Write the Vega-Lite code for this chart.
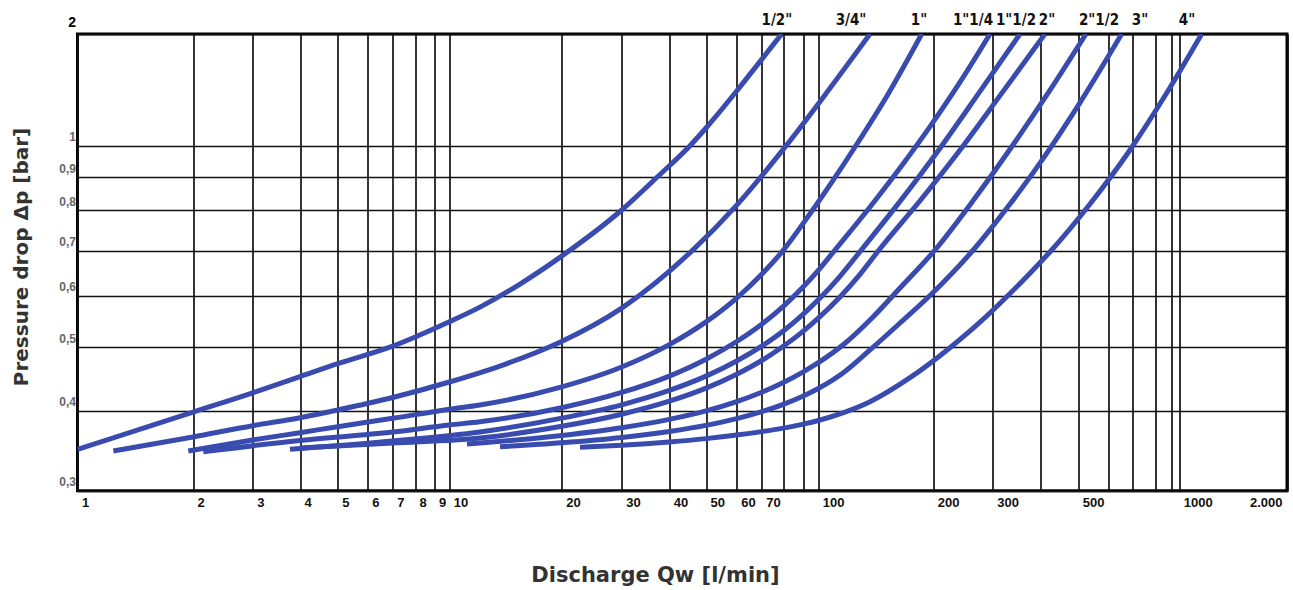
{
  "$schema": "https://vega.github.io/schema/vega-lite/v6.json",
  "width": 1209.5,
  "height": 456.7,
  "autosize": "none",
  "padding": {"left": 77.5, "top": 34, "right": 6, "bottom": 99.3},
  "background": "white",
  "config": {"view": {"stroke": "#000", "strokeWidth": 3}},
  "datasets": {
    "curves": [
      {"pipe": "1/2\"", "q": 1, "dp": 0.348}, {"pipe": "1/2\"", "q": 2, "dp": 0.398}, {"pipe": "1/2\"", "q": 3, "dp": 0.426}, {"pipe": "1/2\"", "q": 4, "dp": 0.451}, {"pipe": "1/2\"", "q": 5, "dp": 0.472}, {"pipe": "1/2\"", "q": 7, "dp": 0.502}, {"pipe": "1/2\"", "q": 10, "dp": 0.547}, {"pipe": "1/2\"", "q": 12.08, "dp": 0.576}, {"pipe": "1/2\"", "q": 15.47, "dp": 0.6242}, {"pipe": "1/2\"", "q": 20, "dp": 0.687}, {"pipe": "1/2\"", "q": 30, "dp": 0.8}, {"pipe": "1/2\"", "q": 37.13, "dp": 0.9}, {"pipe": "1/2\"", "q": 45.37, "dp": 1}, {"pipe": "1/2\"", "q": 50, "dp": 1.116}, {"pipe": "1/2\"", "q": 60, "dp": 1.404}, {"pipe": "1/2\"", "q": 70, "dp": 1.709}, {"pipe": "1/2\"", "q": 79.21, "dp": 2},
      {"pipe": "3/4\"", "q": 1.24, "dp": 0.346}, {"pipe": "3/4\"", "q": 2, "dp": 0.364}, {"pipe": "3/4\"", "q": 3, "dp": 0.379}, {"pipe": "3/4\"", "q": 4, "dp": 0.39}, {"pipe": "3/4\"", "q": 5, "dp": 0.401}, {"pipe": "3/4\"", "q": 7, "dp": 0.419}, {"pipe": "3/4\"", "q": 10, "dp": 0.4425}, {"pipe": "3/4\"", "q": 14.1, "dp": 0.471}, {"pipe": "3/4\"", "q": 19.79, "dp": 0.509}, {"pipe": "3/4\"", "q": 30, "dp": 0.574}, {"pipe": "3/4\"", "q": 45.84, "dp": 0.699}, {"pipe": "3/4\"", "q": 60.11, "dp": 0.815}, {"pipe": "3/4\"", "q": 79.85, "dp": 0.987}, {"pipe": "3/4\"", "q": 104.75, "dp": 1.382}, {"pipe": "3/4\"", "q": 136.56, "dp": 2},
      {"pipe": "1\"", "q": 1.944, "dp": 0.346}, {"pipe": "1\"", "q": 3, "dp": 0.36}, {"pipe": "1\"", "q": 4, "dp": 0.3696}, {"pipe": "1\"", "q": 5, "dp": 0.3776}, {"pipe": "1\"", "q": 7, "dp": 0.3892}, {"pipe": "1\"", "q": 10, "dp": 0.402}, {"pipe": "1\"", "q": 12.08, "dp": 0.4081}, {"pipe": "1\"", "q": 19.79, "dp": 0.4342}, {"pipe": "1\"", "q": 30, "dp": 0.4665}, {"pipe": "1\"", "q": 40, "dp": 0.5048}, {"pipe": "1\"", "q": 50, "dp": 0.5468}, {"pipe": "1\"", "q": 60, "dp": 0.5947}, {"pipe": "1\"", "q": 70, "dp": 0.6456}, {"pipe": "1\"", "q": 79.21, "dp": 0.6964}, {"pipe": "1\"", "q": 94.34, "dp": 0.7901}, {"pipe": "1\"", "q": 109.27, "dp": 0.89}, {"pipe": "1\"", "q": 124.76, "dp": 0.9957}, {"pipe": "1\"", "q": 152.21, "dp": 1.3766}, {"pipe": "1\"", "q": 186.51, "dp": 2},
      {"pipe": "1\"1/4", "q": 2.145, "dp": 0.3452}, {"pipe": "1\"1/4", "q": 4, "dp": 0.3594}, {"pipe": "1\"1/4", "q": 7, "dp": 0.3705}, {"pipe": "1\"1/4", "q": 10, "dp": 0.38}, {"pipe": "1\"1/4", "q": 12.08, "dp": 0.3845}, {"pipe": "1\"1/4", "q": 20, "dp": 0.4042}, {"pipe": "1\"1/4", "q": 30, "dp": 0.4265}, {"pipe": "1\"1/4", "q": 40, "dp": 0.4518}, {"pipe": "1\"1/4", "q": 50, "dp": 0.4795}, {"pipe": "1\"1/4", "q": 60, "dp": 0.5103}, {"pipe": "1\"1/4", "q": 70, "dp": 0.5424}, {"pipe": "1\"1/4", "q": 80, "dp": 0.5776}, {"pipe": "1\"1/4", "q": 90, "dp": 0.6184}, {"pipe": "1\"1/4", "q": 100, "dp": 0.6543}, {"pipe": "1\"1/4", "q": 110.59, "dp": 0.7016}, {"pipe": "1\"1/4", "q": 136.56, "dp": 0.8087}, {"pipe": "1\"1/4", "q": 163.63, "dp": 0.9283}, {"pipe": "1\"1/4", "q": 196.07, "dp": 1.1258}, {"pipe": "1\"1/4", "q": 239.99, "dp": 1.483}, {"pipe": "1\"1/4", "q": 294.52, "dp": 2},
      {"pipe": "1\"1/2", "q": 3.764, "dp": 0.3482}, {"pipe": "1\"1/2", "q": 7, "dp": 0.3587}, {"pipe": "1\"1/2", "q": 12.08, "dp": 0.3705}, {"pipe": "1\"1/2", "q": 20, "dp": 0.3894}, {"pipe": "1\"1/2", "q": 30, "dp": 0.4084}, {"pipe": "1\"1/2", "q": 40, "dp": 0.4296}, {"pipe": "1\"1/2", "q": 50, "dp": 0.4518}, {"pipe": "1\"1/2", "q": 60, "dp": 0.4765}, {"pipe": "1\"1/2", "q": 70, "dp": 0.5021}, {"pipe": "1\"1/2", "q": 80, "dp": 0.5297}, {"pipe": "1\"1/2", "q": 90, "dp": 0.562}, {"pipe": "1\"1/2", "q": 100, "dp": 0.591}, {"pipe": "1\"1/2", "q": 113.97, "dp": 0.641}, {"pipe": "1\"1/2", "q": 129.9, "dp": 0.7028}, {"pipe": "1\"1/2", "q": 163.63, "dp": 0.8252}, {"pipe": "1\"1/2", "q": 209.36, "dp": 0.9917}, {"pipe": "1\"1/2", "q": 275.09, "dp": 1.4007}, {"pipe": "1\"1/2", "q": 353.33, "dp": 2},
      {"pipe": "2\"", "q": 4, "dp": 0.3498}, {"pipe": "2\"", "q": 7, "dp": 0.3561}, {"pipe": "2\"", "q": 12.08, "dp": 0.3626}, {"pipe": "2\"", "q": 20, "dp": 0.3782}, {"pipe": "2\"", "q": 30, "dp": 0.395}, {"pipe": "2\"", "q": 40, "dp": 0.4136}, {"pipe": "2\"", "q": 50, "dp": 0.4331}, {"pipe": "2\"", "q": 60, "dp": 0.4548}, {"pipe": "2\"", "q": 70, "dp": 0.4773}, {"pipe": "2\"", "q": 80, "dp": 0.5018}, {"pipe": "2\"", "q": 90, "dp": 0.5293}, {"pipe": "2\"", "q": 100, "dp": 0.5539}, {"pipe": "2\"", "q": 113.97, "dp": 0.5968}, {"pipe": "2\"", "q": 128.58, "dp": 0.6452}, {"pipe": "2\"", "q": 144.18, "dp": 0.7016}, {"pipe": "2\"", "q": 184.59, "dp": 0.827}, {"pipe": "2\"", "q": 239.99, "dp": 0.9858}, {"pipe": "2\"", "q": 313.42, "dp": 1.3646}, {"pipe": "2\"", "q": 410.34, "dp": 2},
      {"pipe": "2\"1/2", "q": 11.15, "dp": 0.3549}, {"pipe": "2\"1/2", "q": 12.08, "dp": 0.3561}, {"pipe": "2\"1/2", "q": 20, "dp": 0.366}, {"pipe": "2\"1/2", "q": 30, "dp": 0.3763}, {"pipe": "2\"1/2", "q": 40, "dp": 0.3877}, {"pipe": "2\"1/2", "q": 50, "dp": 0.3997}, {"pipe": "2\"1/2", "q": 60, "dp": 0.413}, {"pipe": "2\"1/2", "q": 70, "dp": 0.4268}, {"pipe": "2\"1/2", "q": 80, "dp": 0.4417}, {"pipe": "2\"1/2", "q": 90, "dp": 0.4587}, {"pipe": "2\"1/2", "q": 100, "dp": 0.4736}, {"pipe": "2\"1/2", "q": 117.46, "dp": 0.5071}, {"pipe": "2\"1/2", "q": 136.56, "dp": 0.5504}, {"pipe": "2\"1/2", "q": 163.63, "dp": 0.6157}, {"pipe": "2\"1/2", "q": 202.33, "dp": 0.7016}, {"pipe": "2\"1/2", "q": 265.86, "dp": 0.8353}, {"pipe": "2\"1/2", "q": 342.9, "dp": 1.0232}, {"pipe": "2\"1/2", "q": 422.7, "dp": 1.4112}, {"pipe": "2\"1/2", "q": 524.2, "dp": 2},
      {"pipe": "3\"", "q": 13.67, "dp": 0.3514}, {"pipe": "3\"", "q": 20, "dp": 0.3564}, {"pipe": "3\"", "q": 30, "dp": 0.3633}, {"pipe": "3\"", "q": 40, "dp": 0.3713}, {"pipe": "3\"", "q": 50, "dp": 0.3795}, {"pipe": "3\"", "q": 60, "dp": 0.3887}, {"pipe": "3\"", "q": 70, "dp": 0.3986}, {"pipe": "3\"", "q": 80, "dp": 0.409}, {"pipe": "3\"", "q": 90, "dp": 0.4212}, {"pipe": "3\"", "q": 100, "dp": 0.4325}, {"pipe": "3\"", "q": 117.46, "dp": 0.4592}, {"pipe": "3\"", "q": 136.56, "dp": 0.4953}, {"pipe": "3\"", "q": 163.63, "dp": 0.5446}, {"pipe": "3\"", "q": 196.07, "dp": 0.6}, {"pipe": "3\"", "q": 262.79, "dp": 0.7016}, {"pipe": "3\"", "q": 332.78, "dp": 0.8172}, {"pipe": "3\"", "q": 410.34, "dp": 0.9669}, {"pipe": "3\"", "q": 505.25, "dp": 1.3066}, {"pipe": "3\"", "q": 653.56, "dp": 2},
      {"pipe": "4\"", "q": 22.63, "dp": 0.3507}, {"pipe": "4\"", "q": 30, "dp": 0.3533}, {"pipe": "4\"", "q": 40, "dp": 0.3575}, {"pipe": "4\"", "q": 50, "dp": 0.3618}, {"pipe": "4\"", "q": 60, "dp": 0.3664}, {"pipe": "4\"", "q": 70, "dp": 0.371}, {"pipe": "4\"", "q": 80, "dp": 0.3757}, {"pipe": "4\"", "q": 90, "dp": 0.3812}, {"pipe": "4\"", "q": 100, "dp": 0.3862}, {"pipe": "4\"", "q": 117.46, "dp": 0.398}, {"pipe": "4\"", "q": 136.56, "dp": 0.4129}, {"pipe": "4\"", "q": 173.8, "dp": 0.4493}, {"pipe": "4\"", "q": 224.15, "dp": 0.4993}, {"pipe": "4\"", "q": 275.09, "dp": 0.5462}, {"pipe": "4\"", "q": 328.81, "dp": 0.6}, {"pipe": "4\"", "q": 375.15, "dp": 0.6479}, {"pipe": "4\"", "q": 426.98, "dp": 0.7016}, {"pipe": "4\"", "q": 537.23, "dp": 0.8175}, {"pipe": "4\"", "q": 688.31, "dp": 0.9858}, {"pipe": "4\"", "q": 861.11, "dp": 1.3629}, {"pipe": "4\"", "q": 1155.08, "dp": 2}
    ],
    "labels": [
      {"pipe": "1/2\"", "q": 76.9, "dp": 2}, {"pipe": "3/4\"", "q": 121.8, "dp": 2}, {"pipe": "1\"", "q": 183.5, "dp": 2}, {"pipe": "1\"1/4", "q": 262.2, "dp": 2}, {"pipe": "1\"1/2", "q": 344.9, "dp": 2}, {"pipe": "2\"", "q": 415.2, "dp": 2}, {"pipe": "2\"1/2", "q": 567.8, "dp": 2}, {"pipe": "3\"", "q": 731.2, "dp": 2}, {"pipe": "4\"", "q": 1050.8, "dp": 2}
    ]
  },
  "encoding": {
    "x": {
      "field": "q", "type": "quantitative",
      "scale": {
        "type": "log", "nice": false,
        "domain": [1, 2, 3, 4, 5, 6, 7, 8, 9, 10, 20, 30, 40, 50, 60, 70, 80, 90, 100, 200, 300, 400, 500, 600, 700, 800, 900, 1000, 2000],
        "range": [0, 115.5, 175.2, 222.5, 260.2, 290.2, 315.2, 337.5, 357, 371.8, 484.2, 544.2, 591.8, 628.5, 659.2, 684.2, 705.8, 725.8, 740.8, 855.8, 915.2, 963.2, 1000.8, 1030.5, 1055.2, 1077.5, 1093.5, 1101.8, 1209.5]
      },
      "axis": {
        "values": [1, 2, 3, 4, 5, 6, 7, 8, 9, 10, 20, 30, 40, 50, 60, 70, 80, 90, 100, 200, 300, 400, 500, 600, 700, 800, 900, 1000, 2000],
        "labelExpr": "indexof([80, 90, 400, 600, 700, 800, 900], datum.value) >= 0 ? '' : (datum.value == 2000 ? '2.000' : '' + datum.value)",
        "grid": true, "gridColor": "#111", "gridWidth": 1.7, "gridOpacity": 1,
        "ticks": false, "domain": false,
        "labelFont": "Liberation Sans, Arial, sans-serif",
        "labelFontSize": 13, "labelFontWeight": "bold", "labelColor": "#111",
        "labelAlign": {"condition": {"test": "datum.value >= 2000", "value": "right"}, "value": "left"},
        "labelOffset": {"condition": {"test": "datum.value >= 2000", "value": -5}, "value": 4},
        "labelBaseline": "top", "labelPadding": 6, "labelOverlap": false, "labelBound": false,
        "title": "Discharge Qw [l/min]",
        "titleFont": "DejaVu Sans", "titleFontSize": 21, "titleFontWeight": "bold", "titleColor": "#333",
        "titleX": 577.5, "titleY": 91, "titleAlign": "center", "titleBaseline": "alphabetic"
      }
    },
    "y": {
      "field": "dp", "type": "quantitative",
      "scale": {
        "type": "log", "nice": false, "zero": false,
        "domain": [0.3, 0.4, 0.5, 0.6, 0.7, 0.8, 0.9, 1, 2],
        "range": [456.7, 376.7, 313.3, 261.5, 216.7, 176, 143.3, 111.7, 0]
      },
      "axis": {
        "values": [0.3, 0.4, 0.5, 0.6, 0.7, 0.8, 0.9, 1, 2],
        "labelExpr": "datum.value == 2 ? '2' : (datum.value == 1 ? '1' : '0,' + round(datum.value * 10))",
        "grid": true, "gridColor": "#111", "gridWidth": 1.7, "gridOpacity": 1,
        "ticks": false, "domain": false,
        "labelFont": "Liberation Sans, Arial, sans-serif",
        "labelFontSize": {"condition": {"test": "datum.value == 2", "value": 14}, "value": 12},
        "labelFontWeight": "bold",
        "labelColor": {"condition": {"test": "datum.value == 2", "value": "#000"}, "value": "#666"},
        "labelAlign": "right", "labelBaseline": "alphabetic",
        "labelOffset": {"condition": {"test": "datum.value == 2", "value": -8}, "value": -5},
        "labelPadding": 2, "labelOverlap": false, "labelBound": false,
        "title": "Pressure drop Δp [bar]",
        "titleFont": "DejaVu Sans", "titleFontSize": 20, "titleFontWeight": "bold", "titleColor": "#333",
        "titleAngle": -90, "titleX": -50, "titleY": 222.5, "titleAlign": "center", "titleBaseline": "alphabetic"
      }
    }
  },
  "layer": [
    {
      "data": {"name": "curves"},
      "mark": {"type": "line", "color": "#3a4bb0", "strokeWidth": 5, "interpolate": "monotone", "clip": true},
      "encoding": {"detail": {"field": "pipe", "type": "nominal"}}
    },
    {
      "data": {"name": "labels"},
      "mark": {"type": "text", "font": "Liberation Sans Narrow, DejaVu Sans Condensed, Arial Narrow, sans-serif", "fontSize": 15, "fontWeight": "bold", "color": "#111", "baseline": "middle", "align": "center", "dy": -14},
      "encoding": {"text": {"field": "pipe", "type": "nominal"}}
    }
  ]
}
